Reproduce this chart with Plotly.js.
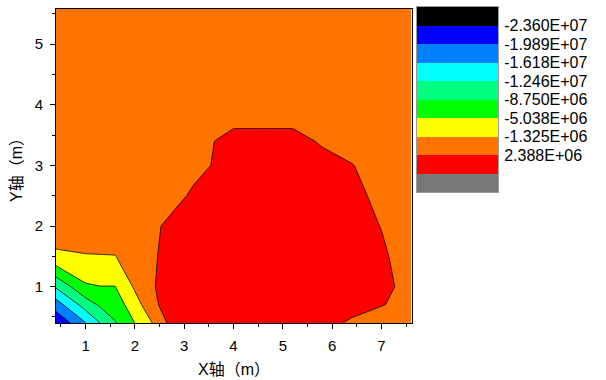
<!DOCTYPE html>
<html><head><meta charset="utf-8">
<script src="https://cdn.plot.ly/plotly-3.0.1.min.js"></script>
<style>body{margin:0;background:#fff}</style>
</head><body><div id="chart" style="width:606px;height:380px"></div>
<script>
// Grid of measurement positions (m)
const xGrid = [0.4, 1.0, 1.3, 1.6, 2.0, 2.4, 2.8, 3.2, 3.6, 4.0, 4.6, 5.2, 5.8, 6.4, 7.0, 7.6];
const yGrid = [0.4, 0.7, 1.0, 1.5, 2.0, 2.5, 3.0, 3.4, 3.8, 4.6, 5.6];
// Field values (one row per yGrid value)
const zRow04 = [-23.2e6, -16.3e6, -12.4e6, -9.0e6, -5.0e6, -0.8e6, 4.3e6, 5e6, 5e6, 5e6, 5e6, 5e6, 5e6, 1.27e6, 0, 0];
const zRow07 = [-17.97e6, -10.8e6, -8.17e6, -7.06e6, -2.9e6, 1.73e6, 5e6, 5e6, 5e6, 5e6, 5e6, 5e6, 5e6, 5e6, 2.6e6, 1.0e6];
const zRow10 = [-12.0e6, -5.5e6, -5.1e6, -5.1e6, -0.8e6, 2.3e6, 5e6, 5e6, 5e6, 5e6, 5e6, 5e6, 5e6, 5e6, 5e6, -0.8e6];
const zRow15 = [-1.9e6, -1.5e6, -1.45e6, -1.4e6, 0.3e6, 1.93e6, 5e6, 5e6, 5e6, 5e6, 5e6, 5e6, 5e6, 5e6, 3.5e6, -0.95e6];
const zRow20 = [0.5e6, 0.5e6, 0.5e6, 0.5e6, 0.5e6, 1.13e6, 5e6, 5e6, 5e6, 5e6, 5e6, 5e6, 5e6, 5e6, 2.2e6, 0];
const zRow25 = [0, 0, 0, 0, 0, 0, 0, 3.82e6, 5e6, 5e6, 5e6, 5e6, 5e6, 5e6, 0, 0];
const zRow30 = [0, 0, 0, 0, 0, 0, 0, 0, 2.81e6, 5e6, 5e6, 5e6, 5e6, 2.6e6, 0, 0];
const zRow34 = [0, 0, 0, 0, 0, 0, 0, 0, 2.3e6, 5e6, 5e6, 5e6, 1.52e6, 0, 0, 0];
const zRow38 = [0, 0, 0, 0, 0, 0, 0, 0, 0, 0, 0, 0, 0, 0, 0, 0];
const zRow46 = [0, 0, 0, 0, 0, 0, 0, 0, 0, 0, 0, 0, 0, 0, 0, 0];
const zRow56 = [0, 0, 0, 0, 0, 0, 0, 0, 0, 0, 0, 0, 0, 0, 0, 0];
const zGrid = [zRow04, zRow07, zRow10, zRow15, zRow20, zRow25, zRow30, zRow34, zRow38, zRow46, zRow56];

// Contour levels and legend
const levelStart = -2.36e7;
const levelSize = 3.7125e6;
const levelEnd = 6.1e6;
const levelLabels = ['-2.360E+07', '-1.989E+07', '-1.618E+07', '-1.246E+07', '-8.750E+06', '-5.038E+06', '-1.325E+06', '2.388E+06'];
const bandColors = ['#000000', '#0000FF', '#0080FF', '#00FFFF', '#00FF80', '#00FF00', '#FFFF00', '#FF7400', '#FF0000', '#787878'];

const nb = bandColors.length - 1;
const colorscale = bandColors.map((c, i) => [i / nb, c]);
const bandIdx = bandColors.map((c, i) => i);

const FONT = 'Liberation Sans, Arial, Noto Sans CJK SC, sans-serif';

const contour = {
  type: 'contour',
  x: xGrid, y: yGrid, z: zGrid,
  autocontour: false,
  contours: {start: levelStart, end: levelEnd, size: levelSize, coloring: 'fill', showlines: true},
  line: {color: '#000', width: 0.8, smoothing: 0},
  colorscale: colorscale,
  showscale: false,
  hoverinfo: 'skip'
};

const legendBar = {
  type: 'heatmap',
  x: [0], y: bandIdx, z: bandIdx.map(i => [i]),
  zmin: 0, zmax: nb,
  colorscale: colorscale,
  showscale: false,
  xaxis: 'x2', yaxis: 'y2',
  hoverinfo: 'skip'
};

const layout = {
  width: 606, height: 380,
  margin: {l: 56, r: 10, t: 7, b: 57},
  paper_bgcolor: '#fff', plot_bgcolor: '#fff',
  font: {family: FONT, size: 15, color: '#000'},
  showlegend: false,
  xaxis: {
    domain: [0, 0.6593],
    range: [0.4, 7.62],
    dtick: 1, tick0: 0,
    ticks: 'outside', ticklen: 5, tickwidth: 1, tickcolor: '#000',
    minor: {dtick: 0.5, tick0: 0, ticks: 'outside', ticklen: 3, tickcolor: '#000'},
    showline: true, linecolor: '#000', linewidth: 1, mirror: true,
    showgrid: false, zeroline: false,
    ticklabelstandoff: 4,
    tickfont: {size: 15},
    title: {text: 'X轴（m）', font: {size: 16}, standoff: 10}
  },
  yaxis: {
    domain: [0, 0.9937],
    range: [0.4, 5.58],
    dtick: 1, tick0: 0,
    ticks: 'outside', ticklen: 5, tickwidth: 1, tickcolor: '#000',
    minor: {dtick: 0.5, tick0: 0, ticks: 'outside', ticklen: 3, tickcolor: '#000'},
    showline: true, linecolor: '#000', linewidth: 1, mirror: true,
    showgrid: false, zeroline: false,
    ticklabelstandoff: 4,
    tickfont: {size: 15},
    title: {text: 'Y轴（m）', font: {size: 16}, standoff: 8}
  },
  xaxis2: {
    domain: [0.6685, 0.8185], anchor: 'y2',
    range: [-0.5, 0.5],
    showticklabels: false, ticks: '', showgrid: false, zeroline: false,
    showline: true, mirror: true, linecolor: '#9a9a9a', linewidth: 1
  },
  yaxis2: {
    domain: [0.4146, 1], anchor: 'x2',
    range: [nb + 0.5, -0.5],
    tickvals: levelLabels.map((t, i) => i + 0.5),
    ticktext: levelLabels,
    side: 'right', ticks: '',
    ticklabelstandoff: 2,
    tickfont: {size: 16},
    showgrid: false, zeroline: false,
    showline: true, mirror: true, linecolor: '#9a9a9a', linewidth: 1
  }
};

Plotly.newPlot('chart', [contour, legendBar], layout, {displayModeBar: false, staticPlot: true});
</script>
</body></html>
